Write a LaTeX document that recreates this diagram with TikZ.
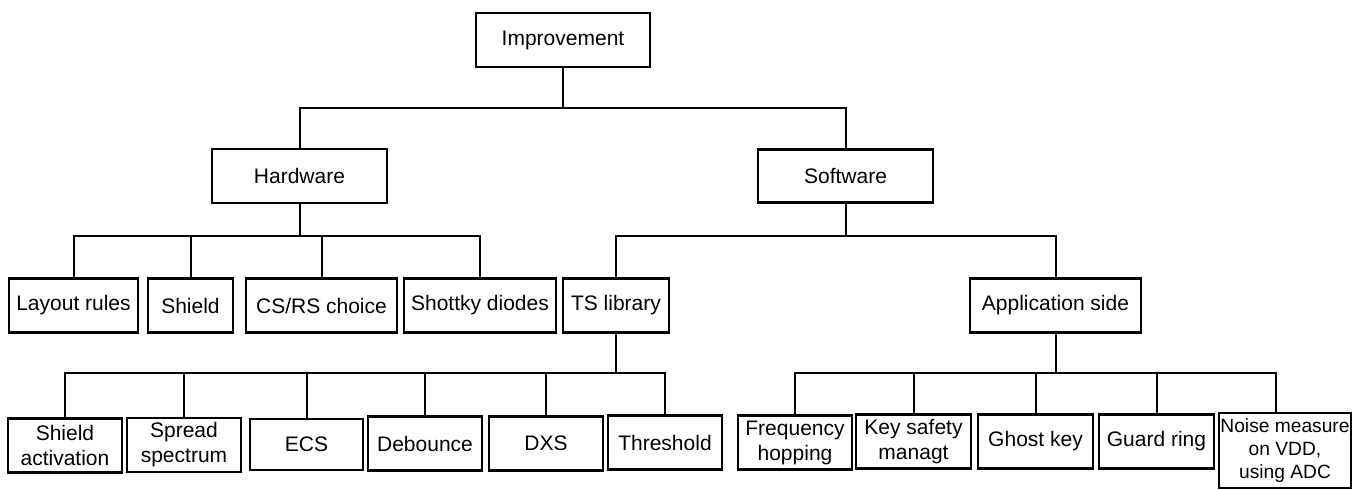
\documentclass[tikz,border=0pt]{standalone}
\usepackage{fontspec}
\setmainfont{Liberation Sans}
\begin{document}
\begin{tikzpicture}[x=0.5pt,y=-0.5pt,
  box/.style={draw,line width=1.3pt,inner sep=0pt,align=center,
    font=\fontsize{10.5}{12.5}\selectfont,minimum height=26.75pt},
  conn/.style={line width=1pt}]
\useasboundingbox (0,0) rectangle (1359,489);
% level 0/1
\node[box,minimum width=87pt,minimum height=27pt] (imp) at (563,40) {Improvement};
\node[box,minimum width=87.5pt,minimum height=27pt] (hw) at (299.5,176) {Hardware};
\node[box,minimum width=87.5pt,minimum height=26.5pt] (sw) at (845.5,176) {Software};
% level 2
\node[box,minimum width=64.5pt] (lay) at (73.5,305.5) {Layout rules};
\node[box,minimum width=42.5pt] (shd) at (190.5,305.5) {Shield};
\node[box,minimum width=75.5pt] (csrs) at (321.5,305.5) {CS/RS choice};
\node[box,minimum width=76pt] (sht) at (480,305.5) {Shottky diodes};
\node[box,minimum width=53pt] (tsl) at (616,305.5) {TS library};
\node[box,minimum width=85.5pt] (app) at (1055.5,305.5) {Application side};
% level 3
\node[box,minimum width=57pt] (sa) at (65,445.5) {Shield\\activation};
\node[box,minimum width=57pt,minimum height=27pt] (ss) at (184,445) {Spread\\spectrum};
\node[box,minimum width=56.5pt,minimum height=25.5pt] (ecs) at (306.5,444.5) {ECS};
\node[box,minimum width=57pt] (deb) at (425,443.5) {Debounce};
\node[box,minimum width=57pt] (dxs) at (546,443.5) {DXS};
\node[box,minimum width=57pt] (thr) at (665,442.5) {Threshold};
\node[box,minimum width=57pt] (frq) at (795,442.5) {Frequency\\hopping};
\node[box,minimum width=57.5pt] (key) at (913.5,441.5) {Key safety\\managt};
\node[box,minimum width=57.5pt] (gho) at (1035.5,441.5) {Ghost key};
\node[box,minimum width=57.5pt] (gua) at (1156.5,441.5) {Guard ring};
\node[box,minimum width=66pt,minimum height=37.5pt,font=\fontsize{9.6}{11.6}\selectfont] (noi) at (1285,450.5) {Noise measure\\on VDD,\\using ADC};
% bus coordinates
\coordinate (b0) at (0,108);
\coordinate (b1) at (0,236);
\coordinate (b2) at (0,373);
% connectors
\draw[conn] (imp.south) -- (imp.south |- b0);
\draw[conn] (hw.north) |- (b0 -| sw.north) -- (sw.north);
\draw[conn] (hw.south) -- (hw.south |- b1);
\draw[conn] (lay.north) |- (b1 -| sht.north) -- (sht.north);
\draw[conn] (shd.north) -- (shd.north |- b1);
\draw[conn] (csrs.north) -- (csrs.north |- b1);
\draw[conn] (sw.south) -- (sw.south |- b1);
\draw[conn] (tsl.north) |- (b1 -| app.north) -- (app.north);
\draw[conn] (tsl.south) -- (tsl.south |- b2);
\draw[conn] (sa.north) |- (b2 -| thr.north) -- (thr.north);
\draw[conn] (ss.north) -- (ss.north |- b2);
\draw[conn] (ecs.north) -- (ecs.north |- b2);
\draw[conn] (deb.north) -- (deb.north |- b2);
\draw[conn] (dxs.north) -- (dxs.north |- b2);
\draw[conn] (app.south) -- (app.south |- b2);
\coordinate (noitop) at ([xshift=-4.5pt]noi.north);
\draw[conn] (frq.north) |- (b2 -| noitop) -- (noitop);
\draw[conn] (key.north) -- (key.north |- b2);
\draw[conn] (gho.north) -- (gho.north |- b2);
\draw[conn] (gua.north) -- (gua.north |- b2);
\end{tikzpicture}
\end{document}
